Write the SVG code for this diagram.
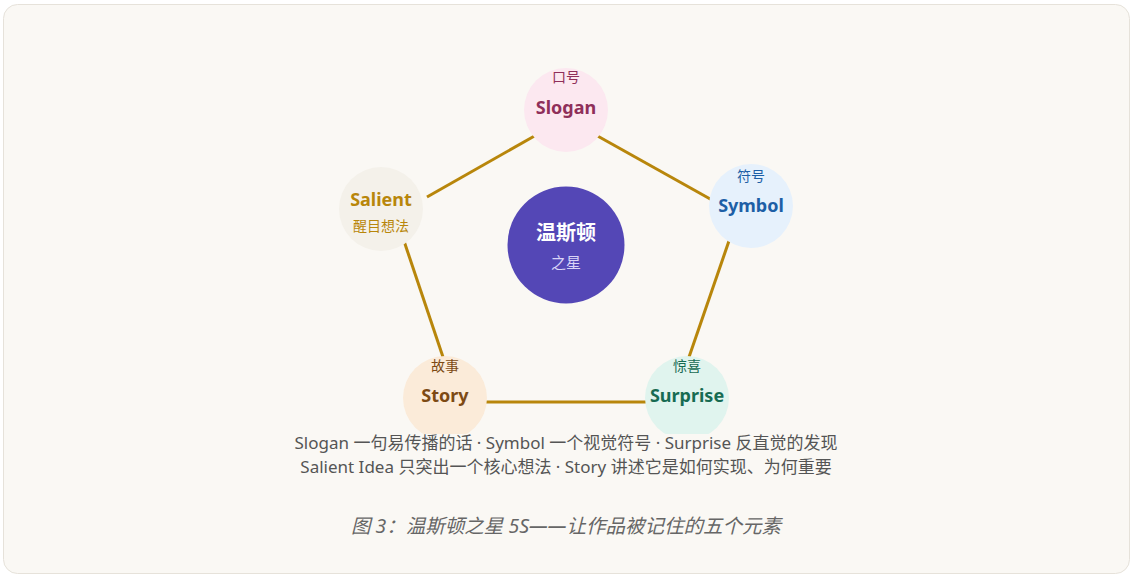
<svg xmlns="http://www.w3.org/2000/svg" width="1138" height="582" viewBox="0 0 1138 582">
<style>
.t{font-family:"Noto Sans","Noto Sans CJK SC",sans-serif;text-anchor:middle}
.en{font-size:18px;font-weight:700}
.zh{font-size:14px}
.edge{stroke:#b8860b;stroke-width:3;fill:none;stroke-linecap:butt}
.leg{font-size:17px;fill:#555}
</style>
<rect x="0" y="0" width="1138" height="582" fill="#ffffff"/>
<rect x="3.5" y="4.5" width="1126" height="569" rx="14" fill="#faf8f4" stroke="#e6e2da"/>
<g id="connectors">
<line class="edge" x1="427" y1="197" x2="538" y2="134"/>
<line class="edge" x1="594" y1="134" x2="712" y2="200"/>
<line class="edge" x1="730" y1="238" x2="688" y2="360"/>
<line class="edge" x1="403" y1="238" x2="444" y2="360"/>
<line class="edge" x1="484" y1="402" x2="648" y2="402"/>
</g>
<g id="center">
<circle cx="566" cy="245" r="58.5" fill="#5447b6"/>
<text class="t" x="566" y="240" font-size="20" font-weight="700" fill="#ffffff">温斯顿</text>
<text class="t" x="566" y="268" font-size="15" fill="#d9d4f6">之星</text>
</g>
<g id="slogan">
<circle cx="566" cy="110" r="42" fill="#fce8f0"/>
<text class="t zh" x="566" y="82" fill="#8f2f5a">口号</text>
<text class="t en" x="566" y="114" fill="#8f2f5a">Slogan</text>
</g>
<g id="symbol">
<circle cx="751" cy="206" r="42" fill="#e6f1fc"/>
<text class="t zh" x="751" y="181" fill="#1d5fa6">符号</text>
<text class="t en" x="751" y="212" fill="#1d5fa6">Symbol</text>
</g>
<g id="surprise">
<circle cx="687" cy="398" r="42" fill="#e0f4ee"/>
<text class="t zh" x="687" y="371" fill="#176b52">惊喜</text>
<text class="t en" x="687" y="402" fill="#176b52">Surprise</text>
</g>
<g id="story">
<circle cx="445" cy="398" r="42" fill="#fbebd9"/>
<text class="t zh" x="445" y="371" fill="#7d4a14">故事</text>
<text class="t en" x="445" y="402" fill="#7d4a14">Story</text>
</g>
<g id="salient">
<circle cx="381" cy="209" r="42" fill="#f4f1ea"/>
<text class="t en" x="381" y="206" fill="#b8860b">Salient</text>
<text class="t zh" x="381" y="231" fill="#b8860b">醒目想法</text>
</g>
<rect x="286" y="434" width="561" height="44" fill="#faf8f4"/>
<text class="t leg" x="566" y="449">Slogan 一句易传播的话 · Symbol 一个视觉符号 · Surprise 反直觉的发现</text>
<text class="t leg" x="566" y="473">Salient Idea 只突出一个核心想法 · Story 讲述它是如何实现、为何重要</text>
<text class="t" x="566" y="533" font-size="19.5" font-style="italic" fill="#666666">图 3：温斯顿之星 5S——让作品被记住的五个元素</text>
</svg>
